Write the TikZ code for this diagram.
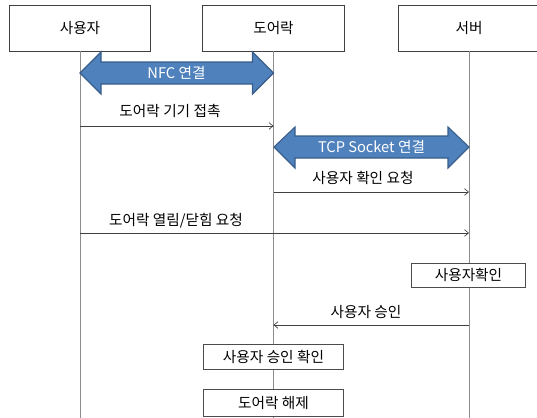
\documentclass[tikz,border=0pt]{standalone}
\usepackage{fontspec}
\setmainfont{Noto Sans CJK KR}
\usetikzlibrary{arrows.meta}
\definecolor{bluefill}{HTML}{4F81BD}
\definecolor{blueedge}{HTML}{385D8A}
\definecolor{lifegray}{HTML}{8C8C8C}
\definecolor{msggray}{HTML}{404040}
\begin{document}
\begin{tikzpicture}[x=0.75pt,y=-0.75pt,
  every node/.style={font=\fontsize{11}{13}\selectfont, inner sep=0pt},
  actor/.style={draw=black!75, line width=0.6pt, fill=white, minimum width=106pt, minimum height=34.5pt},
  procbox/.style={draw=black!70, line width=0.6pt, fill=white},
  lifeline/.style={draw=lifegray, line width=0.6pt},
  msg/.style={draw=msggray, line width=0.5pt, -{Straight Barb[length=3pt,width=5pt]}},
  bigarrow/.style={fill=bluefill, draw=blueedge, line width=0.8pt},
  bigtext/.style={text=white, font=\fontsize{11}{13}\selectfont},
  lbl/.style={text=black}]
\useasboundingbox (0,0) rectangle (537,418);
% lifelines
\coordinate (uEnd) at (80,418);
\coordinate (dEnd) at (273.5,418);
\coordinate (sEnd) at (469,418);
% actors
\node[actor] (user) at (80,28) {사용자};
\node[actor] (door) at (273.5,28) {도어락};
\node[actor] (server) at (469,28) {서버};
\draw[lifeline] (user.south) -- (uEnd);
\draw[lifeline] (door.south) -- (dEnd);
\draw[lifeline] (server.south) -- (sEnd);
% NFC double arrow
\draw[bigarrow] (80,73) -- (101,52) -- (101,62) -- (252.5,62) -- (252.5,52) -- (273.5,73)
  -- (252.5,94) -- (252.5,84) -- (101,84) -- (101,94) -- cycle;
\node[bigtext] (nfc) at (176.5,73) {NFC 연결};
% message 1
\coordinate (m1a) at (80,126);
\coordinate (m1b) at (273.5,126);
\draw[msg] (m1a) -- (m1b);
\node[lbl] (t1) at (170,111) {도어락 기기 접촉};
% TCP double arrow
\draw[bigarrow] (274,147) -- (295,127) -- (295,136) -- (448,136) -- (448,127) -- (469,147)
  -- (448,168) -- (448,158) -- (295,158) -- (295,168) -- cycle;
\node[bigtext] (tcp) at (371.5,147) {TCP Socket 연결};
% message 2
\coordinate (m2a) at (273.5,192);
\coordinate (m2b) at (469,192);
\draw[msg] (m2a) -- (m2b);
\node[lbl] (t2) at (363,178) {사용자 확인 요청};
% message 3
\coordinate (m3a) at (80,233);
\coordinate (m3b) at (469,233);
\draw[msg] (m3a) -- (m3b);
\node[lbl] (t3) at (176,221) {도어락 열림/닫힘 요청};
% server check box
\node[procbox, minimum width=85pt, minimum height=18pt] (scheck) at (468.5,275) {사용자확인};
% message 4
\coordinate (m4a) at (469,325);
\coordinate (m4b) at (273.5,325);
\draw[msg] (m4a) -- (m4b);
\node[lbl] (t4) at (366,312) {사용자 승인};
% door boxes
\node[procbox, minimum width=105pt, minimum height=18.75pt] (confirm) at (273.5,356.5) {사용자 승인 확인};
\node[procbox, minimum width=105pt, minimum height=20pt] (unlock) at (273.5,403) {도어락 해제};
\end{tikzpicture}
\end{document}
